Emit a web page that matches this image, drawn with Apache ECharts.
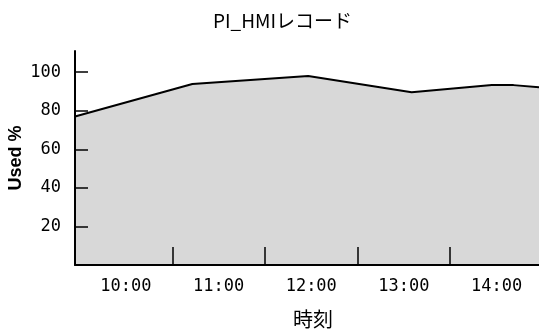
<!DOCTYPE html>
<html>
<head>
<meta charset="utf-8">
<title>PI_HMIレコード</title>
<script src="https://cdn.jsdelivr.net/npm/echarts@6/dist/echarts.min.js"></script>
<style>
  html, body { margin: 0; padding: 0; background: #ffffff; }
  #chart { width: 539px; height: 334px; }
</style>
</head>
<body>
<div id="chart"></div>
<script>
// Sample times, in minutes after midnight
const times = [567, 643, 718, 785, 837, 851, 867.5];
// Used percentage at each sample
const usedPct = [77.0, 93.9, 98.0, 89.6, 93.4, 93.3, 92.2];
// Hour labels along the time axis, and half-hour tick marks
const hourLabels = [600, 660, 720, 780, 840];
const halfHourTicks = [630, 690, 750, 810];
// Tick values on the percentage axis
const pctTicks = [0, 20, 40, 60, 80, 100];
const pctLabels = [20, 40, 60, 80, 100];

const chartTitle = 'PI_HMIレコード';
const xName = '時刻';
const yName = 'Used %';

const mono = '"DejaVu Sans Mono", "Liberation Mono", monospace';

function hhmm(v) {
  const h = Math.floor(v / 60);
  const m = Math.round(v % 60);
  return String(h).padStart(2, '0') + ':' + String(m).padStart(2, '0');
}

const chart = echarts.init(document.getElementById('chart'), null, { renderer: 'canvas' });

chart.setOption({
  backgroundColor: '#ffffff',
  animation: false,
  title: {
    text: chartTitle,
    left: 213,
    top: 11,
    padding: 0,
    textStyle: {
      fontFamily: '"Noto Sans CJK JP", sans-serif',
      fontSize: 19,
      fontWeight: 'normal',
      color: '#000'
    }
  },
  grid: {
    left: 75, right: 0, top: 51, bottom: 69,
    containLabel: false,
    outerBoundsMode: 'none'
  },
  xAxis: {
    type: 'value',
    min: 567,
    max: 867.5,
    z: 5,
    name: xName,
    nameLocation: 'middle',
    nameGap: 44,
    nameMoveOverlap: false,
    nameTextStyle: {
      fontFamily: '"Noto Sans CJK JP", sans-serif',
      fontSize: 20,
      color: '#000',
      padding: [0, 0, 0, 12]
    },
    axisLine: { show: true, lineStyle: { color: '#000', width: 2 } },
    axisTick: {
      show: true,
      inside: true,
      length: 18,
      customValues: halfHourTicks,
      lineStyle: { color: '#000', width: 1.5 }
    },
    axisLabel: {
      customValues: hourLabels,
      formatter: hhmm,
      margin: 13,
      fontFamily: mono,
      fontSize: 17,
      color: '#000'
    },
    splitLine: { show: false }
  },
  yAxis: {
    type: 'value',
    min: 0,
    max: 111,
    z: 5,
    name: yName,
    nameLocation: 'middle',
    nameRotate: 90,
    nameGap: 50,
    nameMoveOverlap: false,
    nameTextStyle: {
      fontFamily: '"Liberation Sans", Arial, sans-serif',
      fontSize: 18,
      fontWeight: 'bold',
      color: '#000'
    },
    axisLine: { show: true, lineStyle: { color: '#000', width: 2 } },
    axisTick: {
      show: true,
      inside: true,
      length: 13,
      customValues: pctTicks,
      lineStyle: { color: '#000', width: 1.5 }
    },
    axisLabel: {
      customValues: pctLabels,
      margin: 14,
      fontFamily: mono,
      fontSize: 17,
      color: '#000'
    },
    splitLine: { show: false }
  },
  series: [{
    type: 'line',
    z: 1,
    data: times.map((t, i) => [t, usedPct[i]]),
    symbol: 'none',
    clip: true,
    lineStyle: { color: '#000', width: 2 },
    areaStyle: { color: '#d8d8d8', opacity: 1 }
  }]
});
</script>
</body>
</html>
